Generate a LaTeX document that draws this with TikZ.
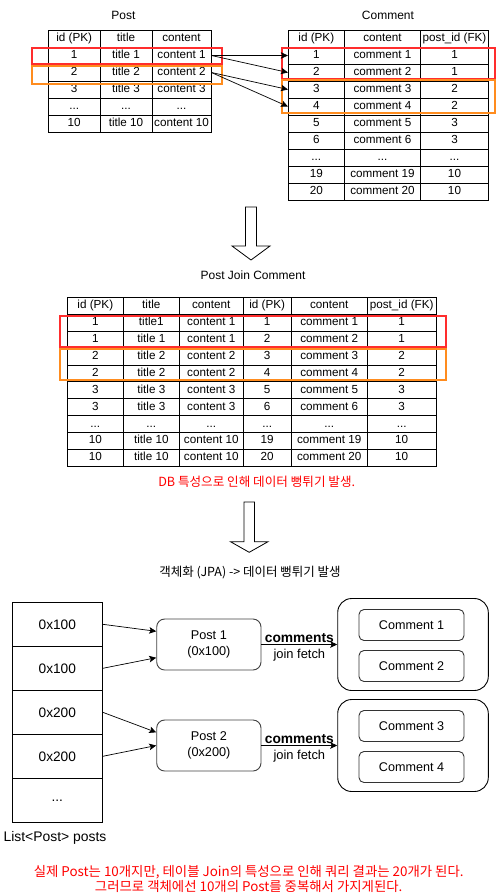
\documentclass[tikz,border=0pt]{standalone}
\usepackage{fontspec}
\setmainfont{Liberation Sans}
\newfontfamily\kr{Noto Sans CJK KR}
\usetikzlibrary{arrows.meta}
\definecolor{hlred}{RGB}{255,45,45}
\definecolor{hlorange}{RGB}{255,140,30}
\newcommand{\tdots}{...}
\tikzset{
	cell/.style={draw, rectangle, inner sep=0pt, minimum height=17pt, text height=8.4pt, text depth=2.4pt, line width=0.8pt, font=\fontsize{11.7}{13}\selectfont},
	jcell/.style={cell, minimum height=16.9pt},
	hlbox/.style={line width=1.8pt},
	arr/.style={-{Stealth[length=7pt,width=6.5pt,inset=1.5pt]}, line width=0.7pt},
	blockarrow/.style={draw, line width=0.8pt, fill=white},
	listcell/.style={draw, rectangle, minimum width=90pt, minimum height=44pt, line width=0.9pt, font=\fontsize{13.7}{16}\selectfont},
	objbox/.style={draw=black!75, rectangle, rounded corners=8pt, line width=0.9pt, align=center, font=\fontsize{12.7}{16}\selectfont},
	groupbox/.style={draw, rectangle, rounded corners=14pt, minimum width=150.6pt, minimum height=92pt, line width=0.9pt},
	combox/.style={draw=black!80, rectangle, rounded corners=5pt, minimum width=105pt, minimum height=31pt, line width=0.9pt, font=\fontsize{12.6}{15}\selectfont},
	lbl/.style={font=\fontsize{12}{14}\selectfont},
}
\begin{document}
\begin{tikzpicture}[x=1pt, y=-1pt]
		\useasboundingbox (0,0) rectangle (497,896);
		%Table Post
		\node[lbl] (titlePost) at (123.5,15) {Post};
		\foreach \r/\pa/\pb/\pc in {0/id (PK)/title/content, 1/1/title 1/content 1, 2/2/title 2/content 2, 3/3/title 3/content 3, 4/\tdots/\tdots/\tdots, 5/10/title 10/content 10}{
			\node[cell, minimum width=51.7pt] (post-\r-1) at (74.2,38.5+17*\r) {\pa};
			\node[cell, minimum width=52pt] (post-\r-2) at (126,38.5+17*\r) {\pb};
			\node[cell, minimum width=59pt] (post-\r-3) at (181.5,38.5+17*\r) {\pc};
		}
		%Table Comment
		\node[lbl] (titleComment) at (388,15) {Comment};
		\foreach \r/\pa/\pb/\pc in {0/id (PK)/content/post\_id (FK), 1/1/comment 1/1, 2/2/comment 2/1, 3/3/comment 3/2, 4/4/comment 4/2, 5/5/comment 5/3, 6/6/comment 6/3, 7/\tdots/\tdots/\tdots, 8/19/comment 19/10, 9/20/comment 20/10}{
			\node[cell, minimum width=56pt] (com-\r-1) at (316.3,38.5+17*\r) {\pa};
			\node[cell, minimum width=76.4pt] (com-\r-2) at (382.5,38.5+17*\r) {\pb};
			\node[cell, minimum width=67.6pt] (com-\r-3) at (454.5,38.5+17*\r) {\pc};
		}
		%Cadres de couleur
		\draw[hlbox, hlred] (32.3,47.7) rectangle (222.3,64);
		\draw[hlbox, hlorange] (32.3,65.7) rectangle (222.3,83.7);
		\draw[hlbox, hlred] (281.7,47.7) rectangle (495.3,79.3);
		\draw[hlbox, hlorange] (281.7,80) rectangle (495.3,113.3);
		%Liens Post -> Comment
		\draw[arr] (post-1-3.east) -- (com-1-1.west);
		\draw[arr] (post-1-3.east) -- (com-2-1.west);
		\draw[arr] (post-2-3.east) -- (com-3-1.west);
		\draw[arr] (post-2-3.east) -- (com-4-1.west);
		%Fleche 1
		\draw[blockarrow] (245.5,207) -- (256.5,207) -- (256.5,246) -- (270,246) -- (251,260) -- (232,246) -- (245.5,246) -- cycle;
		\node[lbl] (titleJoin) at (253,275) {Post Join Comment};
		%Table jointure
		\foreach \r/\pa/\pb/\pc/\qa/\qb/\qc in {0/id (PK)/title/content/id (PK)/content/post\_id (FK), 1/1/title1/content 1/1/comment 1/1, 2/1/title 1/content 1/2/comment 2/1, 3/2/title 2/content 2/3/comment 3/2, 4/2/title 2/content 2/4/comment 4/2, 5/3/title 3/content 3/5/comment 5/3, 6/3/title 3/content 3/6/comment 6/3, 7/\tdots/\tdots/\tdots/\tdots/\tdots/\tdots, 8/10/title 10/content 10/19/comment 19/10, 9/10/title 10/content 10/20/comment 20/10}{
			\node[jcell, minimum width=56pt] (join-\r-1) at (95.3,305.75+16.9*\r) {\pa};
			\node[jcell, minimum width=56pt] (join-\r-2) at (151.3,305.75+16.9*\r) {\pb};
			\node[jcell, minimum width=64pt] (join-\r-3) at (211.3,305.75+16.9*\r) {\pc};
			\node[jcell, minimum width=47.7pt] (join-\r-4) at (267.2,305.75+16.9*\r) {\qa};
			\node[jcell, minimum width=76.3pt] (join-\r-5) at (329.2,305.75+16.9*\r) {\qb};
			\node[jcell, minimum width=68.7pt] (join-\r-6) at (401.7,305.75+16.9*\r) {\qc};
		}
		\draw[hlbox, hlred] (60,316) rectangle (445.7,346.7);
		\draw[hlbox, hlorange] (60,349.3) rectangle (445.7,380.3);
		\node[lbl, font=\kr\fontsize{12.6}{14}\selectfont, text=red] (noteDB) at (256.7,481.7) {DB 특성으로 인해 데이터 뻥튀기 발생.};
		%Fleche 2
		\draw[blockarrow] (244,502) -- (254.5,502) -- (254.5,541.7) -- (268,541.7) -- (249.2,552.3) -- (230.5,541.7) -- (244,541.7) -- cycle;
		\node[lbl, font=\kr\fontsize{12.5}{14}\selectfont] (titleJPA) at (250,573) {객체화 (JPA) -> 데이터 뻥튀기 발생};
		%Liste posts
		\node[listcell] (list-1) at (57.3,624.3) {0x100};
		\node[listcell] (list-2) at (57.3,668.3) {0x100};
		\node[listcell] (list-3) at (57.3,712.3) {0x200};
		\node[listcell] (list-4) at (57.3,756.3) {0x200};
		\node[listcell] (list-5) at (57.3,800.3) {\tdots};
		\node[font=\fontsize{13.9}{16}\selectfont] (listName) at (55,837.5) {List<Post> posts};
		%Objets Post
		\node[objbox, minimum width=104.3pt, minimum height=51pt] (post1) at (208.85,644.5) {Post 1\\(0x100)};
		\node[objbox, minimum width=104.3pt, minimum height=51pt] (post2) at (208.85,745.5) {Post 2\\(0x200)};
		\draw[arr] (list-1.east) -- ([yshift=-12.75pt]post1.north west);
		\draw[arr] (list-2.east) -- ([yshift=12.75pt]post1.south west);
		\draw[arr] (list-3.east) -- ([yshift=-12.75pt]post2.north west);
		\draw[arr] (list-4.east) -- (post2.west);
		%Collections comments
		\node[groupbox] (group1) at (413,644.5) {};
		\node[groupbox] (group2) at (413,745.5) {};
		\node[combox] (c1) at (411.5,625) {Comment 1};
		\node[combox] (c2) at (411.5,666) {Comment 2};
		\node[combox] (c3) at (411.5,726) {Comment 3};
		\node[combox] (c4) at (411.5,767) {Comment 4};
		\draw[arr] (post1.east) -- node[above, inner sep=2pt, font=\bfseries\fontsize{13.8}{16}\selectfont] {comments} node[below, inner sep=4pt, font=\fontsize{12.9}{15}\selectfont] {join fetch} (group1.west);
		\draw[arr] (post2.east) -- node[above, inner sep=2pt, font=\bfseries\fontsize{13.8}{16}\selectfont] {comments} node[below, inner sep=4pt, font=\fontsize{12.9}{15}\selectfont] {join fetch} (group2.west);
		%Note finale
		\node[align=center, text=red, font=\kr\fontsize{13.4}{15.7}\selectfont] (noteFin) at (248.7,879) {실제 Post는 10개지만, 테이블 Join의 특성으로 인해 쿼리 결과는 20개가 된다.\\그러므로 객체에선 10개의 Post를 중복해서 가지게된다.};
		\end{tikzpicture}
\end{document}
